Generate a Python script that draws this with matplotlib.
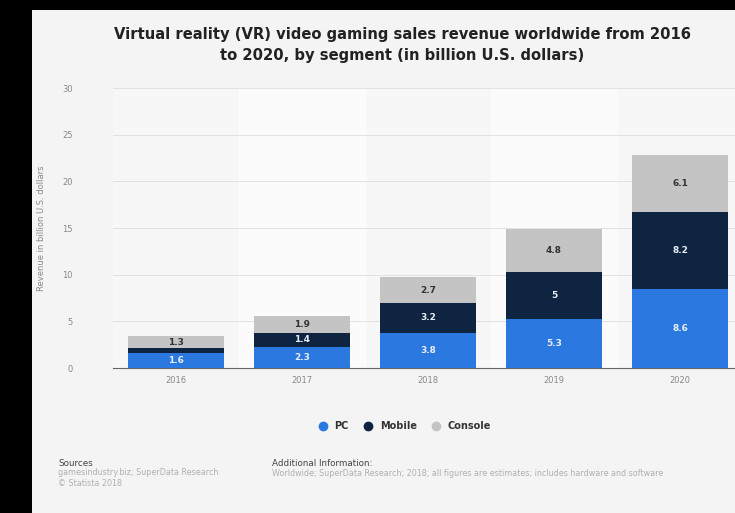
import numpy as np
import matplotlib.pyplot as plt

# -----------------------------
# Data
# -----------------------------
years = ["2016", "2017", "2018", "2019", "2020"]
pc = [1.6, 2.3, 3.8, 5.3, 8.5]
mobile = [0.5, 1.4, 3.2, 5.0, 8.2]
console = [1.3, 1.9, 2.7, 4.6, 6.1]
pc_labels = ["1.6", "2.3", "3.8", "5.3", "8.6"]
mobile_labels = ["", "1.4", "3.2", "5", "8.2"]
console_labels = ["1.3", "1.9", "2.7", "4.8", "6.1"]
y_ticks = [0, 5, 10, 15, 20, 25, 30]

blue = "#2a78e0"
navy = "#0e2440"
grey = "#c4c4c4"

fig = plt.figure(figsize=(7.35, 5.13), dpi=100)
fig.patch.set_facecolor("black")

# light panel inside black frame
panel = fig.add_axes([32 / 735, 0, 1 - 32 / 735, 1 - 10 / 513])
panel.set_facecolor("#f4f4f4")
panel.set_xticks([])
panel.set_yticks([])
for s in panel.spines.values():
    s.set_visible(False)

# plot axes
ax = fig.add_axes([113 / 735, 1 - 368 / 513, 1 - 113 / 735, 280 / 513])
ax.set_facecolor("#f7f7f7")
x = np.arange(len(years))

# faint alternating column bands
for i in x:
    if i % 2 == 1:
        ax.axvspan(i - 0.5, i + 0.5, color="white", alpha=0.6, zorder=0)

bottom_mobile = np.array(pc)
bottom_console = bottom_mobile + np.array(mobile)
w = 0.76
ax.bar(x, pc, w, color=blue, zorder=3, label="PC")
ax.bar(x, mobile, w, bottom=bottom_mobile, color=navy, zorder=3, label="Mobile")
ax.bar(x, console, w, bottom=bottom_console, color=grey, zorder=3, label="Console")

for i in x:
    ax.text(i, pc[i] / 2, pc_labels[i], ha="center", va="center",
            fontsize=6.5, fontweight="bold", color="#e8eef8", zorder=4)
    if mobile_labels[i]:
        ax.text(i, bottom_mobile[i] + mobile[i] / 2, mobile_labels[i], ha="center",
                va="center", fontsize=6.5, fontweight="bold", color="#e8eef8", zorder=4)
    ax.text(i, bottom_console[i] + console[i] / 2, console_labels[i], ha="center",
            va="center", fontsize=6.5, fontweight="bold", color="#333333", zorder=4)

ax.set_xlim(-0.5, 4.5 - 8 / 126)
ax.set_ylim(0, 30)
ax.set_yticks(y_ticks)
ax.set_yticklabels([str(t) for t in y_ticks], fontsize=6, color="#888888")
ax.set_xticks(x)
ax.set_xticklabels(years, fontsize=6, color="#888888")
ax.tick_params(axis="x", length=0, pad=6)
ax.tick_params(axis="y", length=0, pad=29)
ax.yaxis.grid(True, color="#e2e2e2", linewidth=0.7, zorder=1)
for s in ["top", "right", "left"]:
    ax.spines[s].set_visible(False)
ax.spines["bottom"].set_color("#666666")
ax.spines["bottom"].set_linewidth(0.8)

fig.text(42 / 735, 1 - 228 / 513, "Revenue in billion U.S. dollars", rotation=90,
         ha="center", va="center", fontsize=6, color="#888888")

# title
fig.text(402 / 735, 1 - 45 / 513,
         "Virtual reality (VR) video gaming sales revenue worldwide from 2016\n"
         "to 2020, by segment (in billion U.S. dollars)",
         ha="center", va="center", fontsize=10.6, fontweight="bold", color="#222222",
         linespacing=1.45)

# legend
handles = [plt.Line2D([], [], marker="o", linestyle="", markersize=6, color=c)
           for c in [blue, navy, grey]]
fig.legend(handles, ["PC", "Mobile", "Console"], loc="center",
           bbox_to_anchor=(402 / 735, 1 - 426 / 513), ncol=3, frameon=False,
           handletextpad=0.2, columnspacing=1.0,
           prop={"size": 7, "weight": "bold"}, labelcolor="#333333")

# footer
fig.text(58 / 735, 1 - 464 / 513, "Sources", fontsize=6.3, color="#444444", va="center")
fig.text(58 / 735, 1 - 478 / 513, "gamesindustry.biz; SuperData Research\n\u00a9 Statista 2018",
         fontsize=5.8, color="#b0b0b0", va="center", linespacing=1.2)
fig.text(272 / 735, 1 - 464 / 513, "Additional Information:", fontsize=6.3,
         color="#444444", va="center")
fig.text(272 / 735, 1 - 473 / 513,
         "Worldwide; SuperData Research; 2018; all figures are estimates; includes hardware and software",
         fontsize=5.8, color="#b0b0b0", va="center")

fig.savefig("out.png", dpi=100, facecolor=fig.get_facecolor())
